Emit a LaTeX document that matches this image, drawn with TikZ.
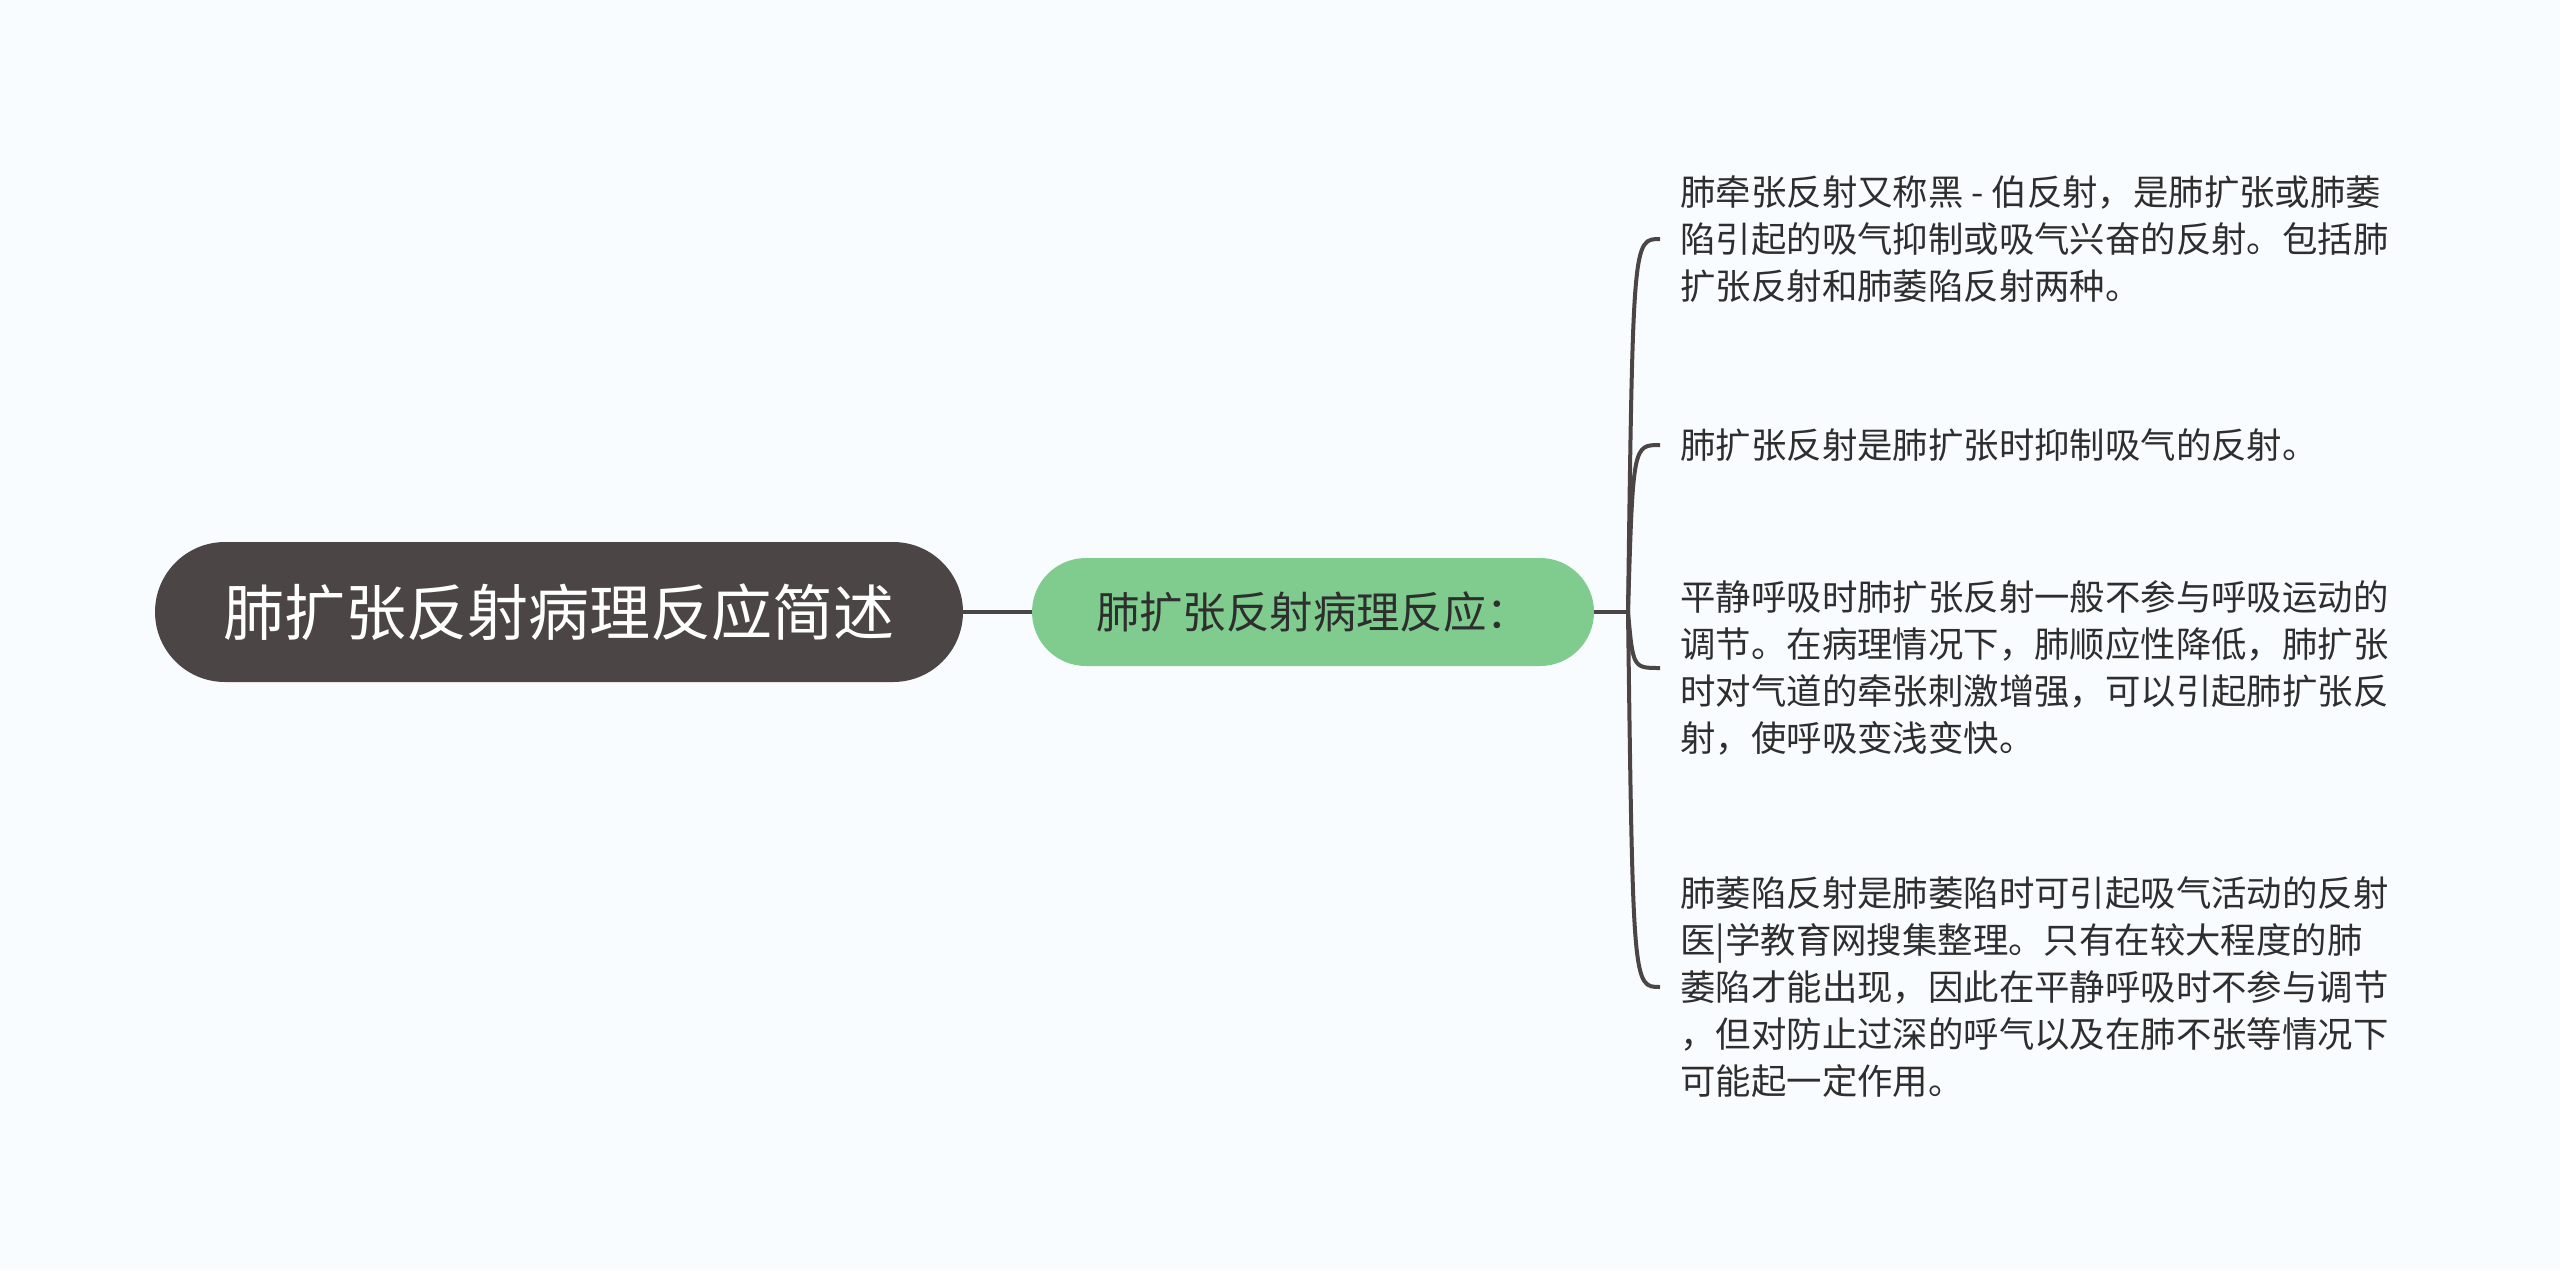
\documentclass[tikz,border=0pt]{standalone}
\usepackage{fontspec}
\setmainfont{Noto Sans CJK SC}
\definecolor{bgc}{HTML}{F9FCFE}
\definecolor{rootc}{HTML}{4B4546}
\definecolor{greenc}{HTML}{80CC8F}
\definecolor{txtc}{HTML}{2E2E2E}
\definecolor{linec}{HTML}{4B4546}
\tikzset{
  rootnode/.style={fill=rootc, text=white, rounded corners=35pt, minimum width=404pt, minimum height=70pt, inner sep=0pt, font=\fontsize{30.5pt}{36pt}\selectfont},
  subnode/.style={fill=greenc, text=txtc, rounded corners=27pt, minimum width=281pt, minimum height=54pt, inner sep=0pt, font=\fontsize{21.7pt}{26pt}\selectfont},
  leafnode/.style={text=txtc, anchor=west, align=left, inner xsep=10pt, inner ysep=0pt, font=\fontsize{17.7pt}{23.5pt}\selectfont},
  conn/.style={draw=linec, line width=2pt},
  branch/.style={draw=linec, line width=2pt}
}
\begin{document}
\begin{tikzpicture}[x=0.5pt,y=-0.5pt]
\fill[bgc] (0,0) rectangle (2560,1270);
\useasboundingbox (0,0) rectangle (2560,1270);
\node[rootnode] (root) at (559,612) {肺扩张反射病理反应简述};
\node[subnode] (sub) at (1313,612) {肺扩张反射病理反应：};
\node[leafnode] (c1) at (1660,239) {肺牵张反射又称黑 - 伯反射，是肺扩张或肺萎\\陷引起的吸气抑制或吸气兴奋的反射。包括肺\\扩张反射和肺萎陷反射两种。};
\node[leafnode] (c2) at (1660,445) {肺扩张反射是肺扩张时抑制吸气的反射。};
\node[leafnode] (c3) at (1660,668) {平静呼吸时肺扩张反射一般不参与呼吸运动的\\调节。在病理情况下，肺顺应性降低，肺扩张\\时对气道的牵张刺激增强，可以引起肺扩张反\\射，使呼吸变浅变快。};
\node[leafnode] (c4) at (1660,987) {肺萎陷反射是肺萎陷时可引起吸气活动的反射\\医|学教育网搜集整理。只有在较大程度的肺\\萎陷才能出现，因此在平静呼吸时不参与调节\\，但对防止过深的呼气以及在肺不张等情况下\\可能起一定作用。};
\coordinate (j) at (1628,612);
\draw[conn] (root.east) -- (sub.west);
\draw[conn] (sub.east) -- (j);
\draw[branch] (j) .. controls (1633,239) .. (c1.west);
\draw[branch] (j) .. controls (1633,445) .. (c2.west);
\draw[branch] (j) .. controls (1633,668) .. (c3.west);
\draw[branch] (j) .. controls (1633,987) .. (c4.west);
\end{tikzpicture}
\end{document}
